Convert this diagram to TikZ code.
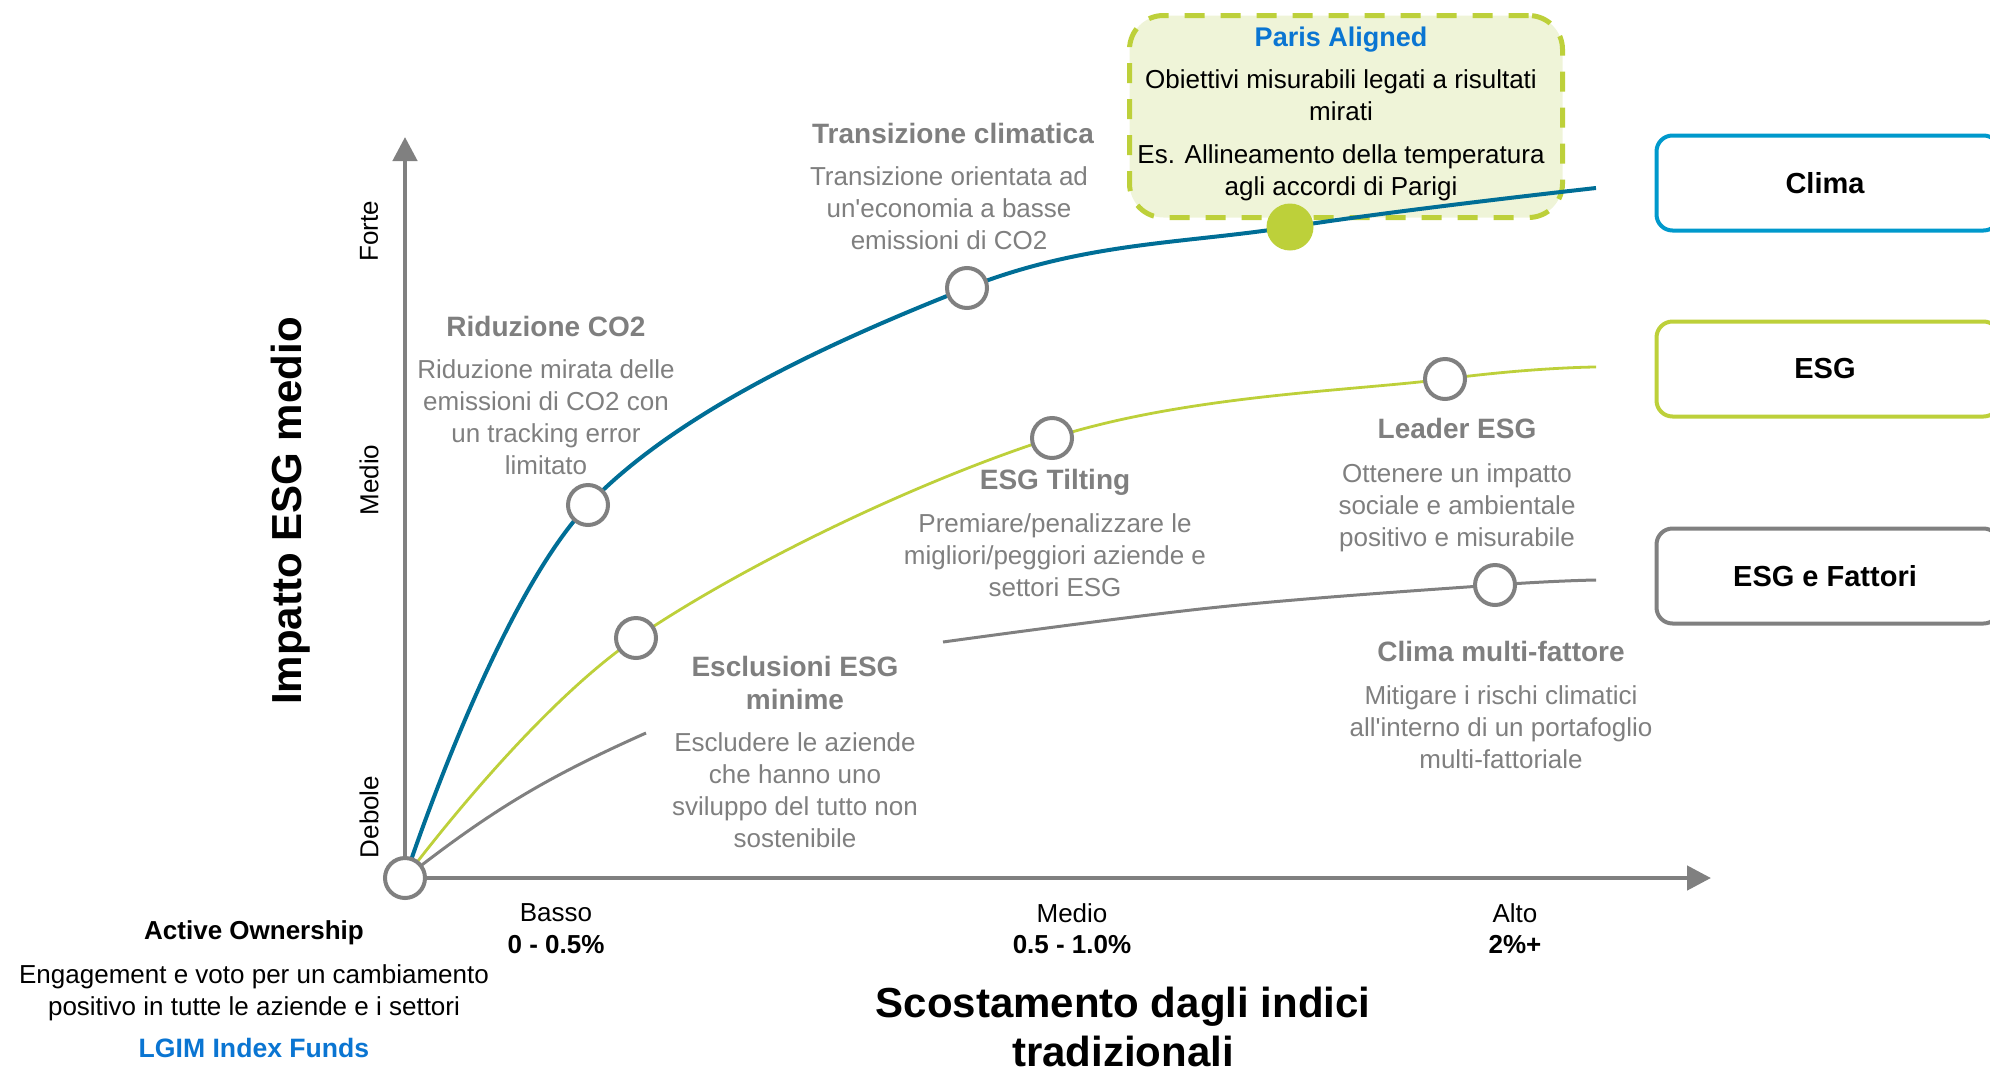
\documentclass[tikz,border=0pt]{standalone}
\usepackage{fontspec}
\setmainfont{Liberation Sans}[Ligatures=TeXOff]
\usetikzlibrary{arrows.meta}
\definecolor{cblue}{RGB}{0,110,150}
\definecolor{cgreen}{RGB}{189,208,58}
\definecolor{cgray}{RGB}{128,128,128}
\definecolor{tgray}{RGB}{127,127,127}
\definecolor{lblue}{RGB}{0,153,204}
\definecolor{tblue}{RGB}{10,117,210}
\definecolor{pfill}{RGB}{239,244,216}
\begin{document}
\begin{tikzpicture}[x=0.5pt,y=-0.5pt,
  desc/.style={text=tgray, align=center, font=\fontsize{13}{16}\selectfont, inner sep=0pt},
  ttl/.style={text=tgray, align=center, font=\bfseries\fontsize{14}{16.5}\selectfont, inner sep=0pt},
  blk/.style={text=black, align=center, font=\fontsize{13}{16}\selectfont, inner sep=0pt},
  blkb/.style={text=black, align=center, font=\bfseries\fontsize{13}{16}\selectfont, inner sep=0pt},
  ring/.style={circle, draw=cgray, line width=2pt, fill=white, minimum size=20pt, inner sep=0pt},
  catbox/.style={draw, line width=2pt, rounded corners=8pt, fill=white, minimum width=171.5pt, minimum height=47.5pt, font=\bfseries\fontsize{14.5}{17}\selectfont},
  axisline/.style={cgray, line width=2.3pt, -{Triangle[width=12pt,length=12pt]}},
  big/.style={align=center, font=\bfseries\fontsize{21}{24.5}\selectfont, inner sep=0pt}
]
\useasboundingbox (0,0) rectangle (1990,1071);

% key coordinates
\coordinate (O) at (405,878);
\coordinate (yend) at (405,137);
\coordinate (xend) at (1711,878);
\coordinate (b1) at (588,505);
\coordinate (b2) at (967,288);
\coordinate (b3) at (1290,227);
\coordinate (b4) at (1596,188);
\coordinate (g1) at (636,638);
\coordinate (g2) at (1052,438);
\coordinate (g3) at (1445,379);
\coordinate (g4) at (1596,367);
\coordinate (f1) at (646,733);
\coordinate (f2) at (943,642);
\coordinate (f3) at (1219,607);
\coordinate (f4) at (1495,585);
\coordinate (f5) at (1596,580);

% axes
\draw[axisline] (O) -- (yend);
\draw[axisline] (O) -- (xend);

% Paris aligned box
\node[draw=cgreen, dash pattern=on 10pt off 8pt, line width=2.5pt, fill=pfill, rounded corners=17pt, minimum width=216.5pt, minimum height=101pt] (paris) at (1346,116.5) {};

% curves
\draw[cblue, line width=2pt] plot[smooth, tension=0.6] coordinates {(O) (b1) (b2) (b3) (b4)};
\draw[cgreen, line width=1.4pt] plot[smooth, tension=0.6] coordinates {(O) (g1) (g2) (g3) (g4)};
\draw[cgray, line width=1.5pt] (O) to[bend left=7] (f1);
\draw[cgray, line width=1.5pt] plot[smooth, tension=0.6] coordinates {(f2) (f3) (f4) (f5)};

% markers
\node[ring] (nO) at (O) {};
\node[ring] (nRid) at (b1) {};
\node[ring] (nTra) at (b2) {};
\node[circle, fill=cgreen, minimum size=23.5pt, inner sep=0pt] (nPar) at (b3) {};
\node[ring] (nEsc) at (g1) {};
\node[ring] (nTil) at (g2) {};
\node[ring] (nLea) at (g3) {};
\node[ring] (nMul) at (f4) {};

% Paris box text
\node[text=tblue, font=\bfseries\fontsize{13.5}{16}\selectfont, inner sep=0pt] (parT) at (1341,40) {Paris Aligned};
\node[blk] (parA) at (1341,95.5) {Obiettivi misurabili legati a risultati\\mirati};
\node[blk] (parB) at (1341,172.5) {Es. Allineamento della temperatura\\agli accordi di Parigi};

% labels on curves
\node[ttl] (traT) at (953,133) {Transizione climatica};
\node[desc] (traD) at (949,208) {Transizione orientata ad\\un'economia a basse\\emissioni di CO2};
\node[ttl] (ridT) at (546,326) {Riduzione CO2};
\node[desc] (ridD) at (546,417) {Riduzione mirata delle\\emissioni di CO2 con\\un tracking error\\limitato};
\node[ttl] (tilT) at (1055,482) {ESG Tilting};
\node[desc] (tilD) at (1055,555) {Premiare/penalizzare le\\migliori/peggiori aziende e\\settori ESG};
\node[ttl] (leaT) at (1457,428) {Leader ESG};
\node[desc] (leaD) at (1457,508) {Ottenere un impatto\\sociale e ambientale\\positivo e misurabile};
\node[ttl] (escT) at (795,682.5) {Esclusioni ESG\\minime};
\node[desc] (escD) at (795,790.5) {Escludere le aziende\\che hanno uno\\sviluppo del tutto non\\sostenibile};
\node[ttl] (mulT) at (1501,651) {Clima multi-fattore};
\node[desc] (mulD) at (1501,727) {Mitigare i rischi climatici\\all'interno di un portafoglio\\multi-fattoriale};

% category boxes
\node[catbox, draw=lblue] (clima) at (1828,183) {\hspace*{-3pt}Clima};
\node[catbox, draw=cgreen] (esg) at (1828,369) {\hspace*{-3pt}ESG};
\node[catbox, draw=cgray] (fatt) at (1828,576) {\hspace*{-3pt}ESG e Fattori};

% y axis labels
\node[big, rotate=90] (ylab) at (291,511) {Impatto ESG medio};
\node[blk, rotate=90] (yF) at (369,231) {Forte};
\node[blk, rotate=90] (yM) at (369,480) {Medio};
\node[blk, rotate=90] (yD) at (369,817) {Debole};

% x axis labels
\node[blk] (xB) at (556,913) {Basso};
\node[blkb] (xBv) at (556,945) {0 - 0.5\%};
\node[blk] (xM) at (1072,913) {Medio};
\node[blkb] (xMv) at (1072,945) {0.5 - 1.0\%};
\node[blk] (xA) at (1515,913) {Alto};
\node[blkb] (xAv) at (1515,945) {2\%+};
\node[big] (xlab) at (1123,1027) {Scostamento dagli indici\\tradizionali};

% active ownership
\node[blkb] (aoT) at (254,933) {Active Ownership};
\node[blk] (aoD) at (254,993) {Engagement e voto per un cambiamento\\positivo in tutte le aziende e i settori};
\node[text=tblue, font=\bfseries\fontsize{13.3}{16}\selectfont, inner sep=0pt] (lgim) at (254,1048) {LGIM Index Funds};
\end{tikzpicture}
\end{document}
